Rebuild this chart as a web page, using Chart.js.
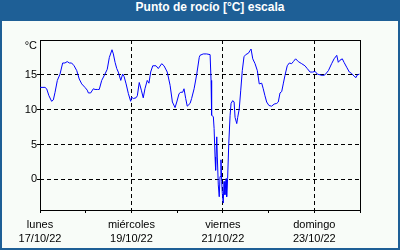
<!DOCTYPE html>
<html>
<head>
<meta charset="utf-8">
<script src="https://cdn.jsdelivr.net/npm/chart.js@4/dist/chart.umd.min.js"></script>
<style>
    body { margin: 0; background: #fff; }
    #box {
        width: 400px; height: 250px; box-sizing: border-box;
        border: 2px solid #1e5f96; border-top: none;
        background: #f8fcf8;
    }
    #title {
        height: 21px; line-height: 20px; background: #1e5f96; color: #fff;
        font: bold 12px "Liberation Sans", Arial, sans-serif;
        text-align: center; padding-left: 20px; box-sizing: border-box;
    }
    #chart-wrap { position: relative; width: 396px; height: 227px; }
</style>
</head>
<body>
<div id="box">
    <div id="title">Punto de rocío [°C] escala</div>
    <div id="chart-wrap"><canvas id="chart-area"></canvas></div>
</div>
<script>
// hours since lunes 17/10/22 00:00
var hours = [
    0, 2.6, 3.5, 4.7, 6.1, 7.0, 7.9, 9.1, 10.5, 11.9, 13.1, 14.3, 15.4, 16.6, 17.9, 19.3, 20.6, 21.9, 23.6,
    24.8, 25.4, 26.6, 28.0, 28.9, 30.1, 31.1, 32.4, 34.1, 35.3, 36.4, 37.8, 38.5, 39.4, 40.3, 41.1, 42.4,
    43.4, 44.1, 45.2, 46.4, 47.6, 48.1, 49.0, 50.4, 51.1, 52.1, 53.2, 54.2, 55.1, 56.3, 57.2, 58.1, 59.2,
    60.9, 62.1, 63.9, 65.1, 66.8, 68.3, 69.5, 70.9, 71.8, 73.0, 73.9, 74.9, 75.6, 76.5, 77.3, 78.8, 79.6,
    80.9, 82.3, 83.6, 84.0, 85.7, 87.5, 89.3, 89.8, 90.1, 91.0, 91.4, 91.9, 92.2, 92.8, 93.1, 93.6, 94.1,
    94.5, 95.0, 95.4, 95.7, 96.2, 96.6, 97.1, 97.7, 98.0, 98.5, 99.1, 99.8, 100.3, 101.2, 101.9, 102.4,
    103.3, 103.8, 104.6, 105.4, 106.2, 107.1, 108.0, 109.4, 110.3, 110.8, 111.7, 112.9, 114.1, 115.1,
    116.4, 117.2, 118.1, 119.0, 120.2, 121.6, 122.9, 124.3, 125.1, 126.0, 126.9, 127.7, 128.6, 129.8,
    130.9, 132.1, 133.0, 134.2, 135.6, 137.4, 139.1, 140.3, 141.8, 143.2, 144.4, 145.6, 147.0, 148.4,
    149.6, 151.4, 153.1, 154.4, 155.8, 156.6, 157.5, 158.7, 159.6, 161.0, 162.4, 163.6, 164.9, 165.9,
    166.6, 167.7
];
var dewPoint = [
    13.2, 13.2, 13.0, 12.0, 11.2, 11.4, 12.5, 14.2, 15.1, 16.7, 16.7, 16.9, 16.7, 16.7, 16.3, 15.6, 14.4, 13.7, 13.2,
    12.8, 12.4, 12.4, 13.0, 12.9, 12.9, 12.9, 14.2, 15.1, 15.8, 17.5, 18.6, 18.0, 16.8, 15.9, 15.4, 14.2,
    15.1, 14.8, 13.7, 12.3, 11.2, 11.8, 11.6, 11.7, 12.0, 13.9, 12.8, 11.7, 13.0, 14.2, 13.8, 15.4, 16.3,
    16.3, 15.9, 16.6, 16.3, 15.4, 13.5, 11.1, 10.3, 11.1, 12.3, 12.5, 12.5, 13.0, 11.6, 10.5, 10.9, 11.6,
    13.0, 15.1, 17.5, 17.8, 18.0, 18.0, 17.9, 14.2, 9.2, 9.0, 7.3, 3.2, 1.3, 6.1, 3.2, -0.8, -2.5,
    0.4, 2.8, -0.3, -2.0, -3.4, -0.3, -2.2, 0.1, -2.5, 0.1, 5.1, 9.2, 10.9, 11.3, 11.1, 8.9,
    8.0, 8.9, 10.1, 12.8, 15.6, 17.6, 17.9, 18.1, 18.5, 18.7, 17.3, 16.6, 15.6, 13.7,
    13.8, 13.0, 12.0, 11.1, 10.6, 10.5, 10.8, 10.9, 11.1, 12.4, 12.6, 13.7, 14.9, 16.3,
    16.7, 16.6, 16.9, 17.3, 16.9, 16.6, 16.3, 15.9, 15.4, 15.4, 15.5, 15.1, 15.0, 14.9,
    15.0, 15.6, 16.6, 17.3, 17.8, 16.8, 17.1, 17.3, 16.8, 16.1, 15.4, 15.2, 14.8, 14.6,
    15.0, 15.1
];
var dayNames = ['lunes', 'miércoles', 'viernes', 'domingo'];
var dayDates = ['17/10/22', '19/10/22', '21/10/22', '23/10/22'];
var yTicks = [0, 5, 10, 15];
var unitLabel = '°C';
var unitPos = 19.1;

var points = hours.map(function (h, i) { return { x: h, y: dewPoint[i] }; });
var font = { family: '"Liberation Sans", Arial, sans-serif', size: 11 };

var frame = {
    id: 'frame',
    beforeDatasetsDraw: function (chart) {
        var a = chart.chartArea, ctx = chart.ctx;
        ctx.save();
        ctx.strokeStyle = '#000';
        ctx.lineWidth = 1;
        ctx.strokeRect(Math.round(a.left) + 0.5, Math.round(a.top) + 0.5,
            Math.round(a.right - a.left), Math.round(a.bottom - a.top));
        ctx.restore();
    }
};

var config = {
    type: 'line',
    data: {
        datasets: [{
            label: 'Punto de rocío',
            data: points,
            borderColor: '#0000ff',
            borderWidth: 1,
            pointRadius: 0,
            tension: 0,
            fill: false
        }]
    },
    options: {
        responsive: true,
        maintainAspectRatio: false,
        animation: false,
        events: [],
        layout: { padding: { top: 19, right: 38, left: 0, bottom: 0 } },
        plugins: { legend: { display: false }, tooltip: { enabled: false } },
        scales: {
            x: {
                type: 'linear',
                min: 0,
                max: 168,
                afterFit: function (scale) { scale.height = 38; },
                ticks: {
                    stepSize: 24,
                    autoSkip: false,
                    maxRotation: 0,
                    padding: 4,
                    color: '#000',
                    font: { family: font.family, size: 11, lineHeight: 1.36 },
                    callback: function (value) {
                        if (value % 48 !== 0 || value >= 168) return '';
                        return [dayNames[value / 48], dayDates[value / 48]];
                    }
                },
                grid: {
                    color: function (ctx) {
                        var v = ctx.tick ? ctx.tick.value : 0;
                        return (v % 48 === 0 && v > 0 && v < 168) ? '#000' : 'rgba(0,0,0,0)';
                    },
                    tickColor: '#000',
                    tickLength: 3,
                    tickBorderDash: [],
                    lineWidth: 1
                },
                border: { display: false, dash: [4, 3] }
            },
            y: {
                min: -4.4,
                max: 20,
                afterFit: function (scale) { scale.width = 38; },
                afterBuildTicks: function (scale) {
                    scale.ticks = yTicks.concat([unitPos]).map(function (v) { return { value: v }; });
                },
                ticks: {
                    padding: 0,
                    color: '#000',
                    font: font,
                    callback: function (value) { return value === unitPos ? unitLabel : value; }
                },
                grid: {
                    color: function (ctx) {
                        var v = ctx.tick ? ctx.tick.value : 0;
                        return yTicks.indexOf(v) >= 0 ? '#000' : 'rgba(0,0,0,0)';
                    },
                    tickColor: function (ctx) {
                        var v = ctx.tick ? ctx.tick.value : 0;
                        return yTicks.indexOf(v) >= 0 ? '#000' : 'rgba(0,0,0,0)';
                    },
                    tickLength: 3,
                    tickBorderDash: [],
                    lineWidth: 1
                },
                border: { display: false, dash: [4, 3] }
            }
        }
    },
    plugins: [frame]
};

var ctx = document.getElementById('chart-area').getContext('2d');
window.myLine = new Chart(ctx, config);
</script>
</body>
</html>
